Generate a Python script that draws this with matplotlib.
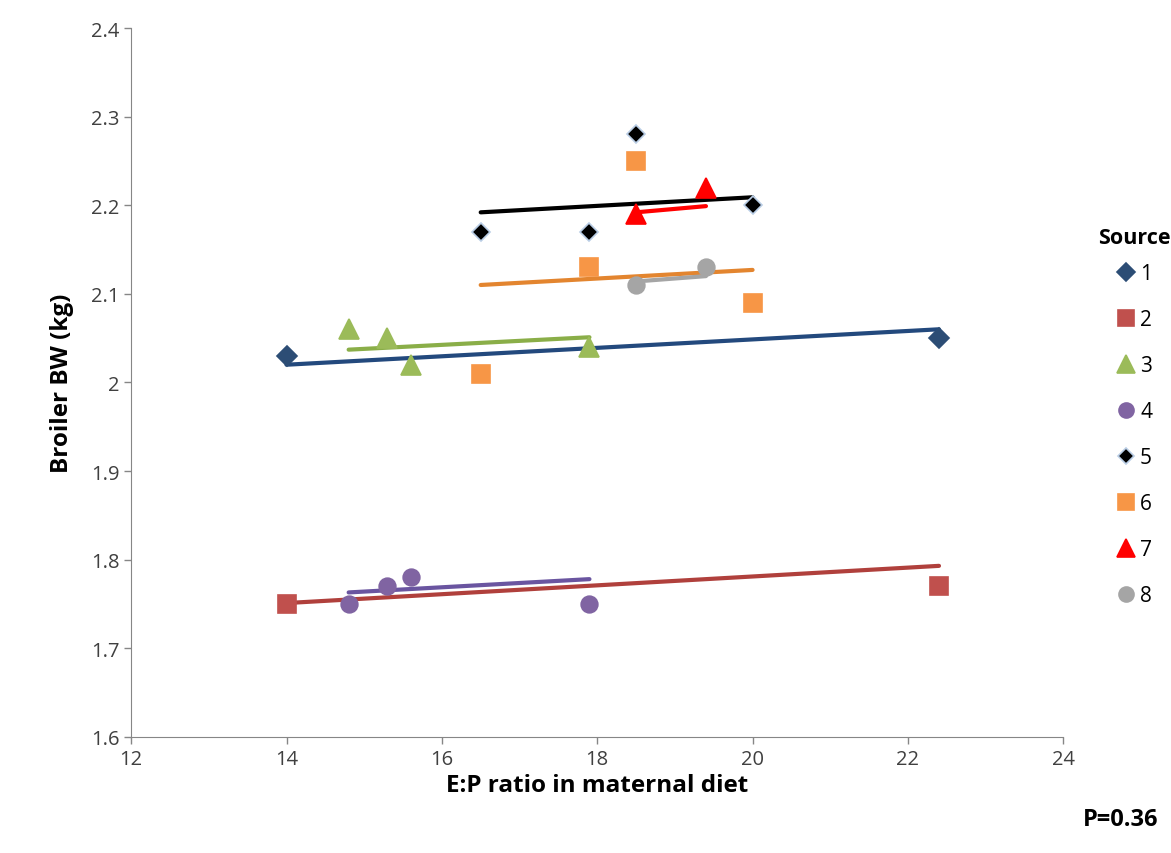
import matplotlib.pyplot as plt

plt.rcParams['font.family'] = ['Open Sans', 'DejaVu Sans']

# E:P ratio (x) and broiler BW (y) for each source
source_names = ['1', '2', '3', '4', '5', '6', '7', '8']
ep_ratio = [
    [14, 22.4],
    [14, 22.4],
    [14.8, 15.3, 15.6, 17.9],
    [14.8, 15.3, 15.6, 17.9],
    [16.5, 17.9, 18.5, 20],
    [16.5, 17.9, 18.5, 20],
    [18.5, 19.4],
    [18.5, 19.4],
]
broiler_bw = [
    [2.03, 2.05],
    [1.75, 1.77],
    [2.06, 2.05, 2.02, 2.04],
    [1.75, 1.77, 1.78, 1.75],
    [2.17, 2.17, 2.28, 2.20],
    [2.01, 2.13, 2.25, 2.09],
    [2.19, 2.22],
    [2.11, 2.13],
]
# trend line values at the first and last x of each source
trend_start = [2.020, 1.751, 2.037, 1.763, 2.192, 2.110, 2.192, 2.114]
trend_end = [2.060, 1.793, 2.051, 1.778, 2.209, 2.127, 2.199, 2.120]

marker_colors = ['#2C4D75', '#C0504D', '#9BBB59', '#8064A2', '#000000', '#F79646', '#FF0000', '#A5A5A5']
line_colors = ['#23497D', '#B0403C', '#8AAE48', '#6A55A0', '#000000', '#E3852F', '#FF0000', '#A5A5A5']
edge_colors = ['#2C4D75', '#C0504D', '#9BBB59', '#8064A2', '#B9CDE5', '#F79646', '#FF0000', '#A5A5A5']
markers = ['D', 's', '^', 'o', 'D', 's', '^', 'o']
msizes = [10, 13, 14, 12, 9, 13, 14, 12]

fig = plt.figure(figsize=(11.71, 8.54), dpi=100)
ax = fig.add_axes([0.112, 0.136, 0.796, 0.830])

handles = []
for i in range(len(source_names)):
    xs = ep_ratio[i]
    ax.plot([min(xs), max(xs)], [trend_start[i], trend_end[i]], color=line_colors[i],
            lw=3, solid_capstyle='round', zorder=2)
    h, = ax.plot(xs, broiler_bw[i], linestyle='none', marker=markers[i], ms=msizes[i],
                 mfc=marker_colors[i], mec=edge_colors[i], mew=1.2, zorder=3,
                 label=source_names[i])
    handles.append(h)

ax.set_xlim(12, 24)
ax.set_ylim(1.6, 2.4)
ax.set_xticks([12, 14, 16, 18, 20, 22, 24])
ax.set_yticks([1.6, 1.7, 1.8, 1.9, 2.0, 2.1, 2.2, 2.3, 2.4])
ax.set_yticklabels(['1.6', '1.7', '1.8', '1.9', '2', '2.1', '2.2', '2.3', '2.4'])
ax.tick_params(labelsize=14.5, colors='#404040', length=5, width=1, color='#868686')
for s in ['top', 'right']:
    ax.spines[s].set_visible(False)
for s in ['left', 'bottom']:
    ax.spines[s].set_color('#868686')

ax.set_xlabel('E:P ratio in maternal diet', fontsize=17.5, fontweight='bold', labelpad=3)
ax.set_ylabel('Broiler BW (kg)', fontsize=17.5, fontweight='bold', labelpad=12)

leg = fig.legend(handles=handles, loc='upper left', bbox_to_anchor=(0.922, 0.755),
                 frameon=False, fontsize=15, title='Source', handlelength=0.8,
                 handletextpad=0.3, labelspacing=1.2, markerscale=0.9,
                 title_fontproperties={'weight': 'bold', 'size': 15.5})
leg._legend_box.sep = 11

fig.text(0.989, 0.033, 'P=0.36', fontsize=17, fontweight='bold', ha='right')

fig.savefig('out.png', dpi=100)
